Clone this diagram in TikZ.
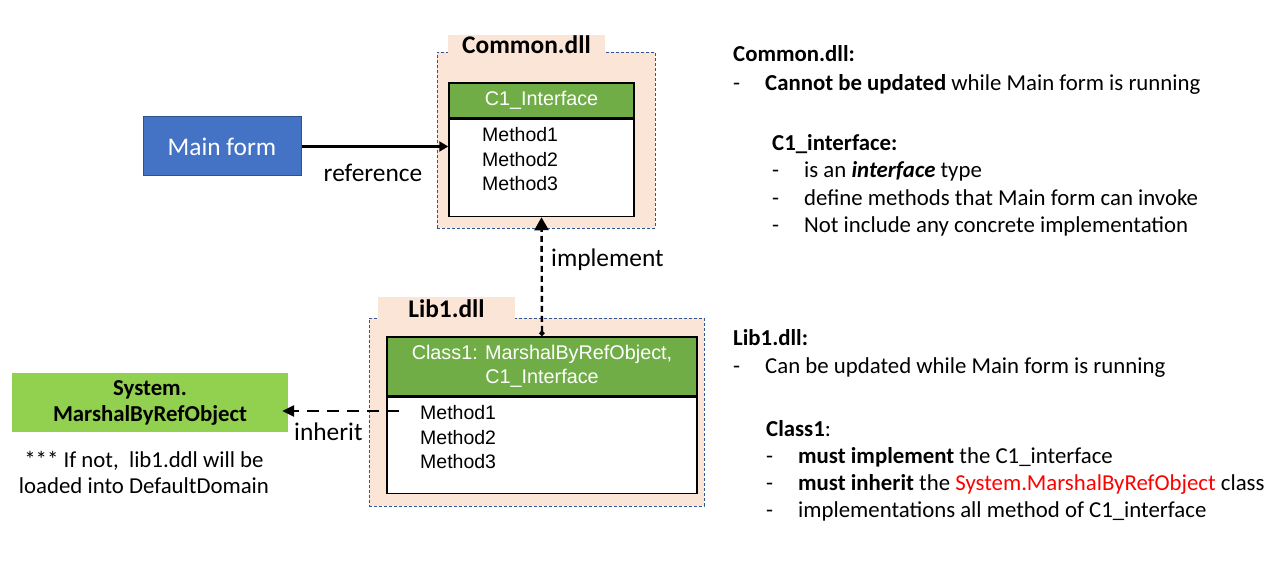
\documentclass[tikz,border=0pt]{standalone}
\usepackage{fontspec}
\setmainfont{Carlito}
\newfontfamily\arialfont{Liberation Sans}
\usetikzlibrary{arrows.meta,positioning}
\definecolor{peach}{HTML}{FBE5D6}
\definecolor{dllblue}{HTML}{2F5597}
\definecolor{hdrgreen}{HTML}{70AD47}
\definecolor{sysgreen}{HTML}{92D050}
\definecolor{formblue}{HTML}{4472C4}
\definecolor{formedge}{HTML}{2F528F}
\definecolor{notered}{HTML}{FF0000}

\begin{document}
\begin{tikzpicture}[x=1pt, y=-1pt,
        dllbox/.style={draw=dllblue, line width=0.9pt, dash pattern=on 3pt off 2pt, fill=peach, inner sep=0pt},
        dlltab/.style={fill=peach, inner sep=0pt, font=\fontsize{25.4}{28}\selectfont\bfseries},
        classhead/.style={draw=black, line width=1.5pt, fill=hdrgreen, text=white, align=center, inner sep=0pt,
            font=\arialfont\fontsize{19.8}{24}\selectfont},
        classbody/.style={draw=black, line width=1.5pt, fill=white, inner sep=0pt},
        methods/.style={font=\arialfont\fontsize{19.5}{24.5}\selectfont, align=left, anchor=north west, inner sep=0pt},
        lbl/.style={font=\fontsize{25.4}{28}\selectfont, inner sep=0pt},
        note/.style={font=\fontsize{22.8}{26}\selectfont, inner sep=0pt, anchor=base west},
        refarrow/.style={-{Triangle[length=9pt,width=10pt]}, line width=2.6pt},
        implarrow/.style={{Diamond[length=6pt,width=6pt]}-{Triangle[length=13pt,width=14pt]}, line width=2.4pt, dash pattern=on 6pt off 4pt},
        inhearrow/.style={-{Triangle[length=12pt,width=11pt]}, line width=2.6pt, dash pattern=on 12pt off 8pt}
    ]
    \useasboundingbox (0,0) rectangle (1286,583);

    % dll containers
    \node[dllbox, minimum width=218, minimum height=176] (common) at (546,140) {};
    \node[dlltab, minimum width=157, minimum height=19] (commontab) at (526.5,44.5) {Common.dll};
    \node[dllbox, minimum width=335, minimum height=188] (lib) at (536.5,412) {};
    \node[dlltab, minimum width=137, minimum height=24] (libtab) at (446.5,309) {Lib1.dll};

    % interface and class
    \node[classhead, minimum width=185, minimum height=35] (c1h) at (541.5,100.5) {C1\_Interface};
    \node[classbody, minimum width=185, minimum height=97, below=0pt of c1h] (c1b) {};
    \node[methods] (c1m) at (482,127.5) {Method1\\Method2\\Method3};

    \node[classhead, minimum width=310, minimum height=59] (k1h) at (542,366.5) {Class1: MarshalByRefObject,\\C1\_Interface};
    \node[classbody, minimum width=310, minimum height=96, below=0pt of k1h] (k1b) {};
    \node[methods] (k1m) at (420,405.5) {Method1\\Method2\\Method3};

    \node[draw=formedge, line width=1pt, fill=formblue, text=white, font=\fontsize{25.4}{28}\selectfont,
        minimum width=158, minimum height=59] (main) at (222,146.5) {Main form};
    \node[fill=sysgreen, align=center, font=\fontsize{22.8}{26}\selectfont\bfseries,
        minimum width=276, minimum height=59] (sys) at (150,402.5) {System.\\MarshalByRefObject};

    % connectors
    \coordinate (inhs) at (399,411);
    \draw[refarrow] (main.east) -- (main -| c1b.west);
    \draw[implarrow] (k1h.north) -- (c1b.south);
    \draw[inhearrow, shorten >=-6pt] (inhs) -- (sys.east |- inhs);

    \node[lbl, anchor=base] (reflbl) at (373,182) {reference};
    \node[lbl, anchor=base west] (impllbl) at (551,266) {implement};
    \node[lbl, anchor=base west] (inhelbl) at (294,440) {inherit};

    \node[font=\fontsize{22.8}{26}\selectfont, align=center, inner sep=0pt] (warn) at (144,472)
        {*** If not,\ \ lib1.ddl will be\\loaded into DefaultDomain};

    % notes on the right
    \node[note] (cdll) at (733,62) {\textbf{Common.dll:}};
    \node[note] (cdll1) at (733,91) {\makebox[32pt][l]{-}\textbf{Cannot be updated} while Main form is running};
    \node[note] (ci) at (772,151) {\textbf{C1\_interface:}};
    \node[note] (ci1) at (772,178) {\makebox[32pt][l]{-}is an \textbf{\textit{interface}} type};
    \node[note] (ci2) at (772,205.5) {\makebox[32pt][l]{-}define methods that Main form can invoke};
    \node[note] (ci3) at (772,233) {\makebox[32pt][l]{-}Not include any concrete implementation};

    \node[note] (ldll) at (733,345) {\textbf{Lib1.dll:}};
    \node[note] (ldll1) at (733,373) {\makebox[32pt][l]{-}Can be updated while Main form is running};
    \node[note] (kc) at (766,436) {\textbf{Class1}:};
    \node[note] (kc1) at (766,463) {\makebox[32pt][l]{-}\textbf{must implement} the C1\_interface};
    \node[note] (kc2) at (766,490) {\makebox[32pt][l]{-}\textbf{must inherit} the \textcolor{notered}{System.MarshalByRefObject} class};
    \node[note] (kc3) at (766,517) {\makebox[32pt][l]{-}implementations all method of C1\_interface};
\end{tikzpicture}
\end{document}
